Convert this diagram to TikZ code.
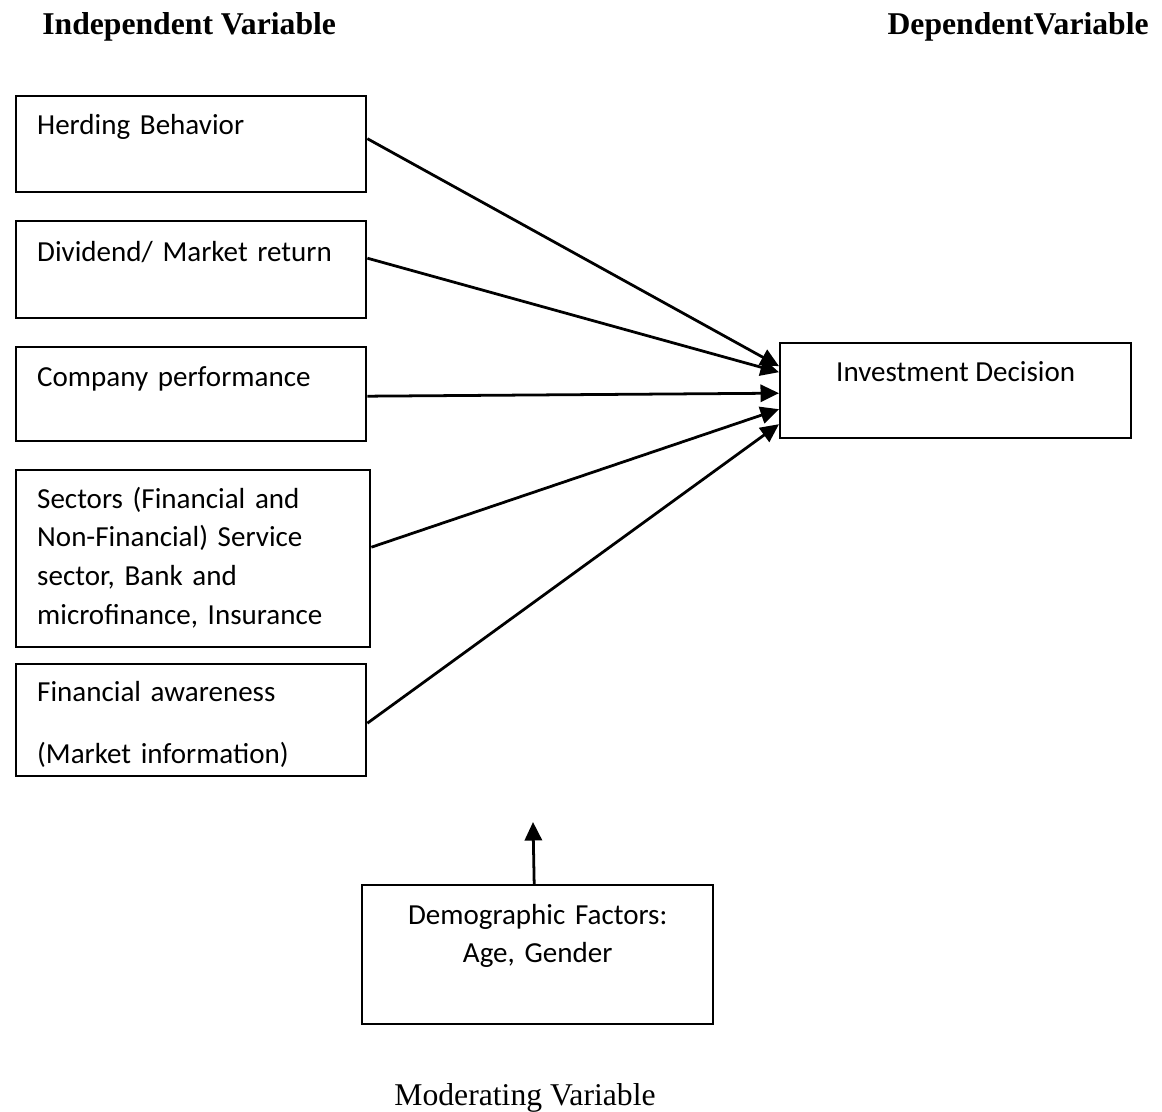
\documentclass[tikz,border=0pt]{standalone}
\usepackage{fontspec}
\setmainfont{Liberation Serif}
\newfontfamily\calibri{Carlito}
\usetikzlibrary{arrows.meta}
\newdimen\px \px=0.3788pt
\tikzstyle{varbox}=[draw,line width=0.9pt,inner sep=0pt,anchor=north west,font=\calibri\fontsize{11}{14.66}\selectfont]
\tikzstyle{left box}=[varbox,align=left,text width=308\px,inner xsep=21\px]
\tikzstyle{heading}=[font=\fontsize{12}{14}\selectfont\bfseries,anchor=base west]
\tikzstyle{link}=[draw,line width=1.05pt,-{Triangle[length=7pt,width=6.5pt]}]

\begin{document}
\begin{tikzpicture}[x=1\px,y=-1\px]
    \useasboundingbox (0,0) rectangle (1162,1112);
    \node[heading] (indep) at (33,35) {Independent Variable};
    \node[heading,anchor=base east] (dep) at (1158,35) {DependentVariable};
    % independent variables
    \node[left box,text height=38\px,text depth=58\px] (herding) at (15,95) {Herding Behavior};
    \node[left box,text height=40\px,text depth=57\px] (dividend) at (15,220) {Dividend/ Market return};
    \node[left box,text height=39\px,text depth=55\px] (company) at (15,346) {Company performance};
    \node[left box,text width=312\px,text height=38\px,text depth=139\px] (sectors) at (15,469)
        {Sectors (Financial and\\Non-Financial) Service\\sector, Bank and\\microfinance, Insurance};
    \node[left box,text height=37\px,text depth=75\px] (awareness) at (15,663)
        {Financial awareness\\[23.3\px](Market information)};
    % dependent and moderating variables
    \node[varbox,minimum width=351\px,text height=38\px,text depth=57\px] (invest) at (779,342) {Investment Decision};
    \node[varbox,align=center,text width=351\px,text height=39\px,text depth=100\px] (demog) at (361,884)
        {Demographic Factors:\\Age, Gender};
    \node[anchor=base,font=\fontsize{12}{14}\selectfont] (moder) at (525,1105) {Moderating Variable};
    \coordinate (modtip) at (533,822);
    \foreach \src/\dy/\ty in {herding/5.5/24.5, dividend/11.5/18.5, company/-2/-2.5,
                              sectors/11.5/-18.5, awareness/-3/-33.5}
        \path[link] ([yshift=\dy\px]\src.east) -- ([yshift=\ty\px]invest.west);
    \path[link] ([xshift=-3.5\px]demog.north) -- (modtip);
\end{tikzpicture}
\end{document}
